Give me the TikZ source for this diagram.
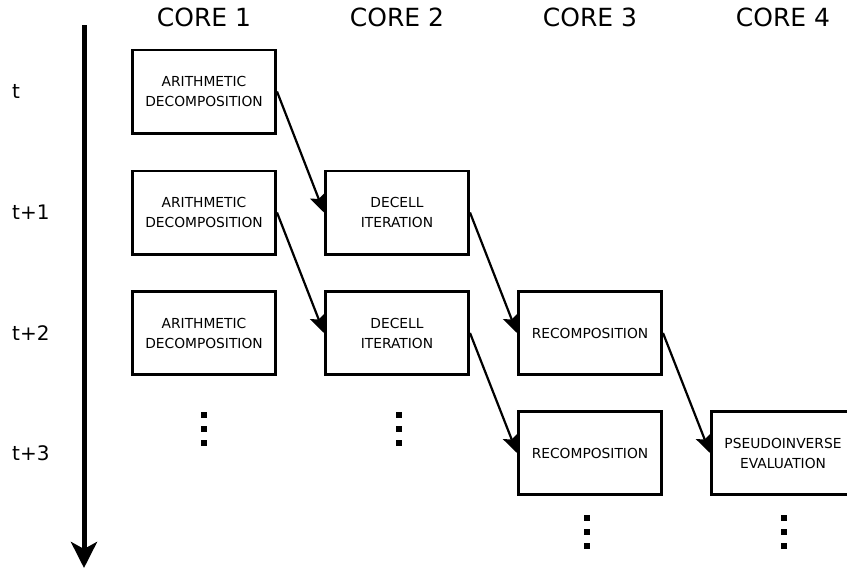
\documentclass[tikz,border=0pt]{standalone}
\usepackage{fontspec}
\setmainfont{DejaVu Sans}
\usetikzlibrary{arrows.meta, positioning}

\begin{document}
\begin{tikzpicture}[x=1pt, y=-1pt,
    task/.style={draw, line width=2.6pt, minimum width=143.4pt, minimum height=83.4pt, align=center, inner sep=2pt, font=\fontsize{13.8}{20}\selectfont},
    core/.style={font=\fontsize{25}{30}\selectfont},
    tlabel/.style={anchor=west, inner sep=0pt, font=\fontsize{20}{24}\selectfont},
    flow/.style={line width=2.2pt, -{Stealth[length=18pt, width=16pt, inset=3.5pt]}}]
    \useasboundingbox (0,0) rectangle (847,573);

    % Cores
    \node[core] (c1) at (204,17.5) {CORE 1};
    \node[core] (c2) at (397,17.5) {CORE 2};
    \node[core] (c3) at (590,17.5) {CORE 3};
    \node[core] (c4) at (783,17.5) {CORE 4};

    % Time steps
    \node[tlabel] (t0) at (12,91.5) {t};
    \node[tlabel] (t1) at (12,212.5) {t+1};
    \node[tlabel] (t2) at (12,333) {t+2};
    \node[tlabel] (t3) at (12,453) {t+3};

    % Time axis
    \coordinate (top) at (84,25);
    \coordinate (bot) at (84,568);
    \draw[line width=5pt, -{Stealth[length=26pt, width=26pt, inset=7pt]}] (top) -- (bot);

    % Tasks
    \node[task] (a0) at (204,91.5) {ARITHMETIC\\DECOMPOSITION};
    \node[task] (a1) at (204,212.5) {ARITHMETIC\\DECOMPOSITION};
    \node[task] (a2) at (204,333) {ARITHMETIC\\DECOMPOSITION};
    \node[task] (d1) at (397,212.5) {DECELL\\ITERATION};
    \node[task] (d2) at (397,333) {DECELL\\ITERATION};
    \node[task] (r2) at (590,333) {RECOMPOSITION};
    \node[task] (r3) at (590,453) {RECOMPOSITION};
    \node[task] (p3) at (783,453) {PSEUDOINVERSE\\EVALUATION};

    % Flow
    \draw[flow] (a0.east) -- (d1.west);
    \draw[flow] (a1.east) -- (d2.west);
    \draw[flow] (d1.east) -- (r2.west);
    \draw[flow] (d2.east) -- (r3.west);
    \draw[flow] (r2.east) -- (p3.west);

    % Continuation dots
    \foreach \x/\y in {204/429, 399/429, 587/532, 784/532}
      \foreach \d in {-14,0,14}
        \fill (\x-3,\y+\d-3) rectangle ++(6,6);
\end{tikzpicture}
\end{document}
